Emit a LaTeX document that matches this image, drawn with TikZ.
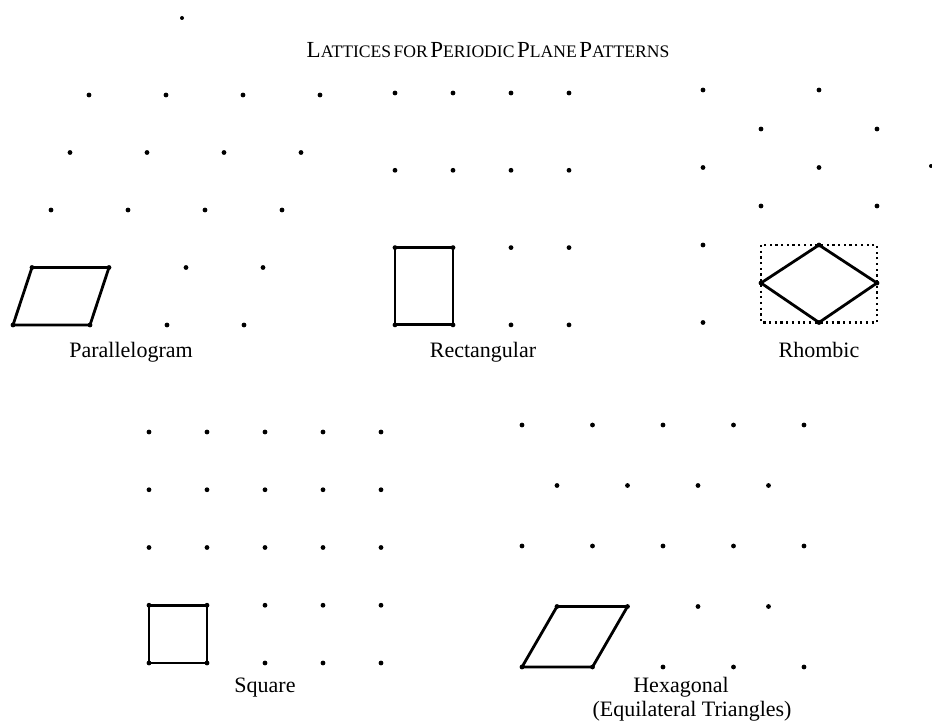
\documentclass[tikz,border=0pt]{standalone}
\usepackage{fontspec}
\setmainfont{Liberation Serif}
\newcommand\scw[2]{{\fontsize{23}{25}\selectfont #1}{\fontsize{17.6}{20}\selectfont #2}}
\begin{document}
\begin{tikzpicture}[x=1pt,y=-1pt,
  dot/.style={circle,fill=black,inner sep=0pt,minimum size=4.8pt},
  speck/.style={circle,fill=black,inner sep=0pt,minimum size=4pt},
  cell/.style={line width=2.8pt,line join=round,line cap=round},
  dotbox/.style={line width=2.2pt,dash pattern=on 2.2pt off 3.5pt},
  lbl/.style={font=\fontsize{22}{24}\selectfont,anchor=base,inner sep=0pt}]
\useasboundingbox (0,0) rectangle (932,727);
% stray marks
\node[speck] (s1) at (182,18) {};
\node[speck] (s2) at (931,166) {};
% title
\node[anchor=base,inner sep=0pt] (title) at (488,58)
  {\scw{L}{ATTICES} \scw{}{FOR} \scw{P}{ERIODIC} \scw{P}{LANE} \scw{P}{ATTERNS}};
% parallelogram lattice
\foreach \r in {1,...,5}{
  \foreach \c in {0,...,3}{
    \node[dot] (pa\r\c) at ({89-19*(\r-1)+77*\c},{95+57.5*(\r-1)}) {};
  }}
\draw[cell] (pa40.center) -- (pa41.center) -- (pa51.center) -- (pa50.center) -- cycle;
\node[lbl] (lpa) at (131,358) {Parallelogram};
% rectangular lattice
\foreach \r in {0,...,3}{
  \foreach \c in {0,...,3}{
    \node[dot] (re\r\c) at ({395+58*\c},{93+77.3*\r}) {};
  }}
\draw[cell] (re20.center) -- (re21.center) -- (re31.center) -- (re30.center) -- cycle;
\node[lbl] (lre) at (483,358) {Rectangular};
% rhombic lattice
\foreach \c in {0,2}{
  \foreach \r in {0,...,3}{
    \node[dot] (rh\c\r) at ({703+58*\c},{90+77.5*\r}) {};
  }}
\foreach \c in {1,3}{
  \foreach \r in {0,...,2}{
    \node[dot] (rh\c\r) at ({703+58*\c},{129+77*\r}) {};
  }}
\draw[dotbox] (rh12.center |- rh22.center) rectangle (rh32.center |- rh23.center);
\draw[cell] (rh22.center) -- (rh32.center) -- (rh23.center) -- (rh12.center) -- cycle;
\node[lbl] (lrh) at (819,358) {Rhombic};
% square lattice
\foreach \r in {0,...,4}{
  \foreach \c in {0,...,4}{
    \node[dot] (sq\r\c) at ({149+58*\c},{432+57.75*\r}) {};
  }}
\draw[cell] (sq30.center) -- (sq31.center) -- (sq41.center) -- (sq40.center) -- cycle;
\node[lbl] (lsq) at (265,692) {Square};
% hexagonal lattice
\foreach \r in {0,2,4}{
  \foreach \c in {0,...,4}{
    \node[dot] (hx\r\c) at ({522+70.5*\c},{425+60.5*\r}) {};
  }}
\foreach \r in {1,3}{
  \foreach \c in {0,...,3}{
    \node[dot] (hx\r\c) at ({557+70.5*\c},{425+60.5*\r}) {};
  }}
\draw[cell] (hx30.center) -- (hx31.center) -- (hx41.center) -- (hx40.center) -- cycle;
\node[lbl] (lhx) at (681,692) {Hexagonal};
\node[lbl] (lhx2) at (692,716) {(Equilateral Triangles)};
\end{tikzpicture}
\end{document}
